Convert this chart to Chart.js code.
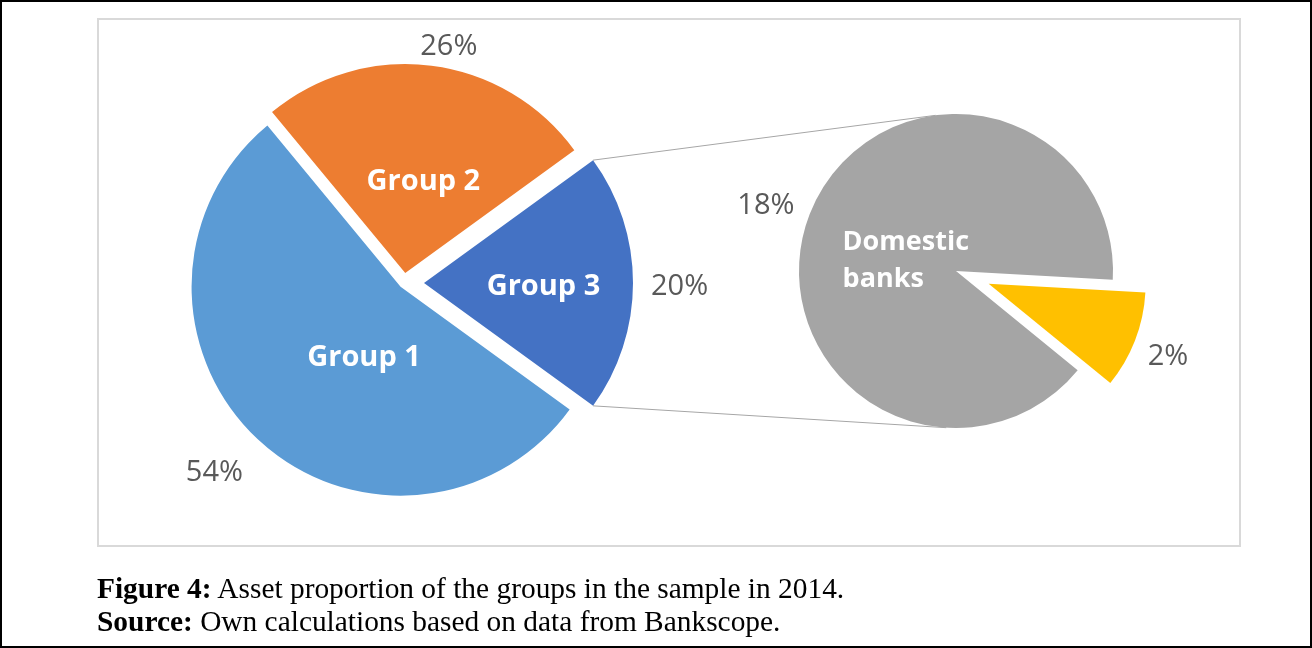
<!DOCTYPE html>
<html>
<head>
<meta charset="utf-8">
<title>Asset proportion of the groups</title>
<script src="https://cdn.jsdelivr.net/npm/chart.js@4"></script>
<style>
  html, body { margin: 0; padding: 0; background: #fff; }
  #page { position: relative; width: 1312px; height: 648px; overflow: hidden; }
  #outer { position: absolute; left: 0; top: 0; width: 1312px; height: 648px; box-sizing: border-box; border: 2px solid #000; }
  #frame { position: absolute; left: 97px; top: 18px; width: 1144px; height: 529px; box-sizing: border-box; border: 2px solid #d9d9d9; }
  canvas { position: absolute; }
  .caption { position: absolute; left: 97px; font-family: 'Liberation Serif', 'Times New Roman', serif; font-size: 29.4px; line-height: 33px; color: #000; white-space: nowrap; }
</style>
</head>
<body>
<div id="page">
  <div id="outer"></div>
  <div id="frame"></div>
  <canvas id="links" width="1312" height="648" style="left:0;top:0"></canvas>
  <canvas id="mainPie" width="640" height="540" style="left:84px;top:13px"></canvas>
  <canvas id="subPie" width="500" height="500" style="left:706px;top:21px"></canvas>
  <div class="caption" style="top:572px"><b>Figure 4:</b> Asset proportion of the groups in the sample in 2014.</div>
  <div class="caption" style="top:605px"><b>Source:</b> Own calculations based on data from Bankscope.</div>
</div>
<script>
// shares of total assets, in percent
const groupNames = ['Group 1', 'Group 2', 'Group 3'];
const groupShares = [54, 26, 20];
// Group 3 split into its parts
const group3Names = [['Domestic', 'banks'], ''];
const group3Shares = [18, 2];

const groupColors = ['#5b9bd5', '#ed7d31', '#4472c4'];
const group3Colors = ['#a5a5a5', '#ffc000'];

const PCT_FONT = '29px "Open Sans"';

// per-slice explode distance, label fonts and small label nudges
const mainStyle = {
  nameFont: 'bold 29px "Open Sans"',
  shift: [5, 10, 20],
  inner: [[35, -5], [5, 12], [15, 4]],
  outer: [[-14, 16], [12, 6], [4, 4]]
};
const subStyle = {
  nameFont: 'bold 27px "Open Sans"',
  shift: [0, 35],
  inner: [[23, 18], [0, 0]],
  outer: [[-4, 1], [1, 7]]
};

function slicePlugin(style) {
  return {
    id: 'slices',
    // draw each arc pulled out along its mid angle
    beforeDatasetsDraw(chart) {
      const ctx = chart.ctx;
      chart.getDatasetMeta(0).data.forEach((arc, i) => {
        const d = style.shift[i] || 0;
        const mid = (arc.startAngle + arc.endAngle) / 2;
        ctx.save();
        ctx.translate(Math.cos(mid) * d, Math.sin(mid) * d);
        arc.draw(ctx);
        ctx.restore();
      });
      return false;
    },
    afterDraw(chart) {
      const ctx = chart.ctx;
      const values = chart.data.datasets[0].data;
      chart.getDatasetMeta(0).data.forEach((arc, i) => {
        const d = style.shift[i] || 0;
        const mid = (arc.startAngle + arc.endAngle) / 2;
        const cos = Math.cos(mid), sin = Math.sin(mid);
        const cx = arc.x + cos * d, cy = arc.y + sin * d;
        const r = arc.outerRadius;

        // category name inside the slice
        const name = chart.data.labels[i];
        if (name) {
          const lines = Array.isArray(name) ? name : [name];
          ctx.save();
          ctx.font = style.nameFont;
          ctx.fillStyle = '#fff';
          ctx.textBaseline = 'middle';
          ctx.textAlign = 'left';
          const ax = cx + cos * r * 0.5 + style.inner[i][0];
          const ay = cy + sin * r * 0.5 + style.inner[i][1];
          const w = Math.max(...lines.map(t => ctx.measureText(t).width));
          const lh = 37;
          lines.forEach((t, k) => {
            ctx.fillText(t, ax - w / 2, ay - (lines.length - 1) * lh / 2 + k * lh);
          });
          ctx.restore();
        }

        // percentage just outside the slice
        const txt = Math.round(values[i]) + '%';
        ctx.save();
        ctx.font = PCT_FONT;
        ctx.fillStyle = '#595959';
        ctx.textAlign = 'center';
        ctx.textBaseline = 'middle';
        const w = ctx.measureText(txt).width, h = 22;
        const ox = cx + cos * (r + 14) + cos * w / 2 + style.outer[i][0];
        const oy = cy + sin * (r + 14) + sin * h / 2 + style.outer[i][1];
        ctx.fillText(txt, ox, oy);
        ctx.restore();
      });
    }
  };
}

function pieConfig(names, shares, colors, radius, rotation, style) {
  return {
    type: 'pie',
    data: {
      labels: names,
      datasets: [{ data: shares, backgroundColor: colors, borderWidth: 0, radius: radius }]
    },
    options: {
      responsive: false,
      animation: false,
      rotation: rotation,
      events: [],
      layout: { padding: 0 },
      plugins: { legend: { display: false }, tooltip: { enabled: false } }
    },
    plugins: [slicePlugin(style)]
  };
}

function tangentPoint(p, c, r, sign) {
  const dx = c[0] - p[0], dy = c[1] - p[1];
  const dist = Math.hypot(dx, dy);
  const phi = Math.atan2(dy, dx) + sign * Math.asin(r / dist);
  const len = Math.sqrt(dist * dist - r * r);
  return [p[0] + Math.cos(phi) * len, p[1] + Math.sin(phi) * len];
}

function build() {
  const mainCanvas = document.getElementById('mainPie');
  const subCanvas = document.getElementById('subPie');
  const mainChart = new Chart(mainCanvas, pieConfig(groupNames, groupShares, groupColors, 209, 126, mainStyle));
  const subChart = new Chart(subCanvas, pieConfig(group3Names, group3Shares, group3Colors, 157, 129.2, subStyle));

  // lines joining Group 3 to the breakdown pie
  const a = mainChart.getDatasetMeta(0).data[2];
  const d = mainStyle.shift[2];
  const mid = (a.startAngle + a.endAngle) / 2;
  const ax = mainCanvas.offsetLeft + a.x + Math.cos(mid) * d;
  const ay = mainCanvas.offsetTop + a.y + Math.sin(mid) * d;
  const top = [ax + Math.cos(a.startAngle) * a.outerRadius, ay + Math.sin(a.startAngle) * a.outerRadius];
  const bottom = [ax + Math.cos(a.endAngle) * a.outerRadius, ay + Math.sin(a.endAngle) * a.outerRadius];

  const g = subChart.getDatasetMeta(0).data[0];
  const c = [subCanvas.offsetLeft + g.x, subCanvas.offsetTop + g.y];
  const t1 = tangentPoint(top, c, g.outerRadius, -1);
  const t2 = tangentPoint(bottom, c, g.outerRadius, 1);

  const lctx = document.getElementById('links').getContext('2d');
  lctx.strokeStyle = '#a6a6a6';
  lctx.lineWidth = 1;
  lctx.beginPath();
  lctx.moveTo(top[0], top[1]); lctx.lineTo(t1[0], t1[1]);
  lctx.moveTo(bottom[0], bottom[1]); lctx.lineTo(t2[0], t2[1]);
  lctx.stroke();
}

Promise.all([
  document.fonts.load(mainStyle.nameFont),
  document.fonts.load(subStyle.nameFont),
  document.fonts.load(PCT_FONT)
]).then(build, build);
</script>
</body>
</html>
